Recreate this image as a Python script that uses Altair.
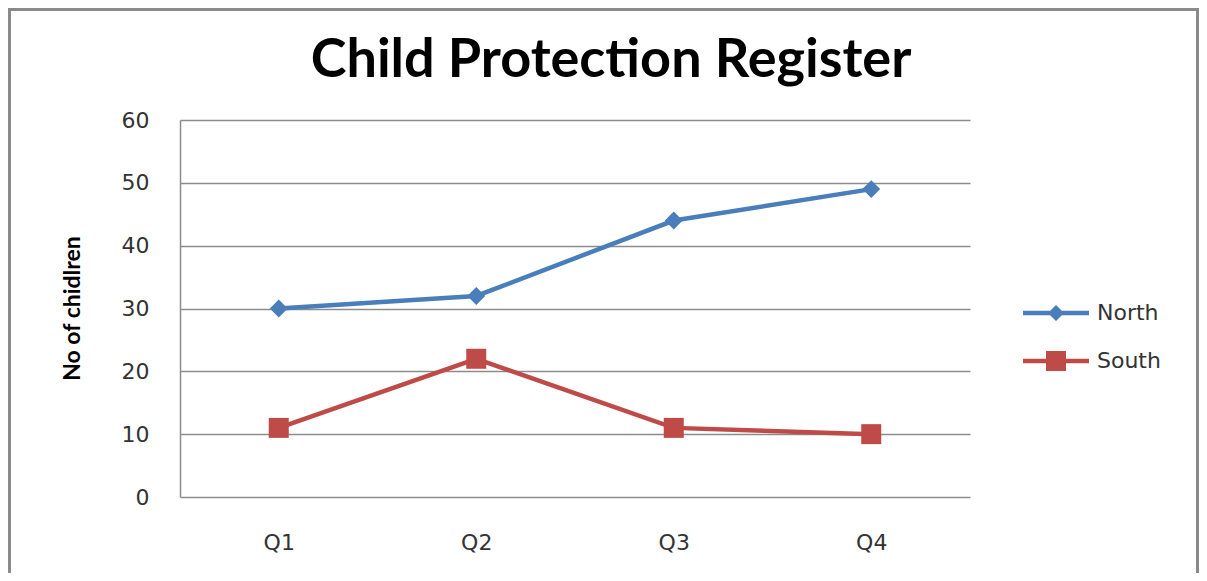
import altair as alt
import pandas as pd

quarters = ["Q1", "Q2", "Q3", "Q4"]
north = [30, 32, 44, 49]
south = [11, 22, 11, 10]
series = ["North", "South"]
colors = ["#4A7EBB", "#BE4B48"]
shapes = ["diamond", "square"]

rows = []
for s, vals in zip(series, [north, south]):
    for q, v in zip(quarters, vals):
        rows.append({"Quarter": q, "Series": s, "Value": v})
df = pd.DataFrame(rows)

# legend symbols: line with marker (unit coords, scaled by sqrt(symbolSize)/2)
north_path = ("M-3.3,-0.22 L-0.58,-0.22 L0,-0.8 L0.58,-0.22 L3.3,-0.22 L3.3,0.22 "
              "L0.58,0.22 L0,0.8 L-0.58,0.22 L-3.3,0.22 Z")
south_path = ("M-3.3,-0.22 L-1,-0.22 L-1,-1 L1,-1 L1,-0.22 L3.3,-0.22 L3.3,0.22 "
              "L1,0.22 L1,1 L-1,1 L-1,0.22 L-3.3,0.22 Z")

x_enc = alt.X("Quarter:N", sort=quarters,
              scale=alt.Scale(type="point", padding=0.5),
              axis=alt.Axis(title=None, labelAngle=0, ticks=False, domain=False,
                            grid=False, labelPadding=35, labelFont="DejaVu Sans",
                            labelFontSize=22, labelColor="#333333"))
y_enc = alt.Y("Value:Q", scale=alt.Scale(domain=[0, 60]),
              axis=alt.Axis(values=[0, 10, 20, 30, 40, 50, 60], ticks=False,
                            domain=True, domainColor="#8c8c8c", domainWidth=1.5,
                            grid=True, gridColor="#8c8c8c", gridWidth=1.5,
                            labelPadding=31, labelFont="DejaVu Sans", labelFontSize=22,
                            labelColor="#333333",
                            title="No of chidlren", titleFont="Lato",
                            titleFontWeight="bold", titleFontSize=23, titleColor="#000000",
                            titleX=-108, titleY=188, titleAngle=270, titleBaseline="middle",
                            titleAlign="center"))

color_scale = alt.Scale(domain=series, range=colors)

lines = alt.Chart(df).mark_line(strokeWidth=4.5).encode(
    x=x_enc, y=y_enc,
    color=alt.Color("Series:N", scale=color_scale, legend=None))

points = alt.Chart(df).mark_point(filled=True, opacity=1, strokeWidth=0).encode(
    x=x_enc, y=y_enc,
    color=alt.Color("Series:N", scale=color_scale, legend=None),
    shape=alt.Shape("Series:N", scale=alt.Scale(domain=series, range=shapes), legend=None),
    size=alt.Size("Series:N", scale=alt.Scale(domain=series, range=[320, 400]), legend=None))

legend = alt.Legend(title=None, orient="none", legendX=865, legendY=182, padding=0,
                    symbolSize=400, symbolOpacity=1, symbolStrokeWidth=0,
                    labelOffset=30, rowPadding=26,
                    labelFont="DejaVu Sans", labelFontSize=22, labelColor="#333333")

legend_layer = alt.Chart(df).mark_point(filled=True, size=0, strokeWidth=0).encode(
    x=x_enc, y=y_enc,
    color=alt.Color("Series:N", scale=color_scale, legend=legend),
    shape=alt.Shape("Series:N", scale=alt.Scale(domain=series, range=[north_path, south_path]),
                    legend=legend))

frame = alt.Chart(pd.DataFrame({"a": [0]})).mark_rect(
    fill="transparent", stroke="#8a8a8a", strokeWidth=3).encode(
    x=alt.value(-170.5), x2=alt.value(1017.5), y=alt.value(-110.5), y2=alt.value(480))

chart = alt.layer(frame, lines, points, legend_layer).resolve_scale(
    color="independent", shape="independent", size="independent"
).properties(
    width=790, height=377,
    autosize=alt.AutoSizeParams(type="none"),
    padding={"left": 172, "top": 112, "right": 229, "bottom": 76},
    title=alt.TitleParams("Child Protection Register", font="Lato",
                          fontWeight="bold", fontSize=54, color="#000000",
                          anchor="middle", offset=40, dx=36, dy=162.5,
                          baseline="alphabetic"),
).configure_view(stroke=None)

chart.save("out.html", embed_options={"renderer": "svg", "actions": False})
